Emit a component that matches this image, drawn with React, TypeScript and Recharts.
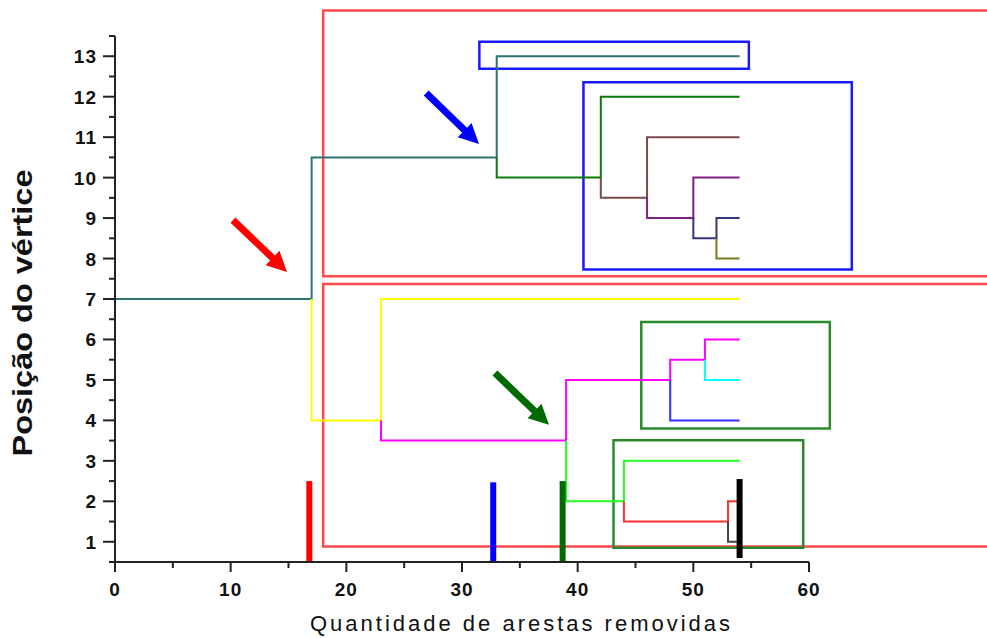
import { ComposedChart, Line, XAxis, YAxis, ReferenceArea, ReferenceLine } from "recharts";

type Pt = { x: number; y: number };

// dendrogram branches: x = arestas removidas, y = posição do vértice
const tealBranch: Pt[] = [
  { x: 0, y: 7 }, { x: 17, y: 7 }, { x: 17, y: 10.5 }, { x: 33, y: 10.5 }, { x: 33, y: 13 }, { x: 54, y: 13 },
];
const darkGreenBranch: Pt[] = [
  { x: 33, y: 10.5 }, { x: 33, y: 10 }, { x: 42, y: 10 }, { x: 42, y: 12 }, { x: 54, y: 12 },
];
const brownBranch: Pt[] = [
  { x: 42, y: 10 }, { x: 42, y: 9.5 }, { x: 46, y: 9.5 }, { x: 46, y: 11 }, { x: 54, y: 11 },
];
const purpleBranch: Pt[] = [
  { x: 46, y: 9.5 }, { x: 46, y: 9 }, { x: 50, y: 9 }, { x: 50, y: 10 }, { x: 54, y: 10 },
];
const navyBranch: Pt[] = [
  { x: 50, y: 9 }, { x: 50, y: 8.5 }, { x: 52, y: 8.5 }, { x: 52, y: 9 }, { x: 54, y: 9 },
];
const oliveBranch: Pt[] = [{ x: 52, y: 8.5 }, { x: 52, y: 8 }, { x: 54, y: 8 }];
const yellowBranch: Pt[] = [
  { x: 17, y: 7 }, { x: 17, y: 4 }, { x: 23, y: 4 }, { x: 23, y: 7 }, { x: 54, y: 7 },
];
const magentaBranch: Pt[] = [
  { x: 23, y: 4 }, { x: 23, y: 3.5 }, { x: 39, y: 3.5 }, { x: 39, y: 5 }, { x: 48, y: 5 },
  { x: 48, y: 5.5 }, { x: 51, y: 5.5 }, { x: 51, y: 6 }, { x: 54, y: 6 },
];
const cyanBranch: Pt[] = [{ x: 51, y: 5.5 }, { x: 51, y: 5 }, { x: 54, y: 5 }];
const blueBranch: Pt[] = [{ x: 48, y: 5 }, { x: 48, y: 4 }, { x: 54, y: 4 }];
const limeBranch: Pt[] = [
  { x: 39, y: 3.5 }, { x: 39, y: 2 }, { x: 44, y: 2 }, { x: 44, y: 3 }, { x: 54, y: 3 },
];
const redBranch: Pt[] = [
  { x: 44, y: 2 }, { x: 44, y: 1.5 }, { x: 53, y: 1.5 }, { x: 53, y: 2 }, { x: 54, y: 2 },
];
const blackBranch: Pt[] = [{ x: 53, y: 1.5 }, { x: 53, y: 1 }, { x: 54, y: 1 }];

const branches = [
  tealBranch, darkGreenBranch, brownBranch, purpleBranch, navyBranch, oliveBranch,
  yellowBranch, magentaBranch, cyanBranch, blueBranch, limeBranch, redBranch, blackBranch,
];
const branchColors = [
  "#2f7272", "#0a7a0a", "#7a4a4a", "#802080", "#35357f", "#7a7a1e",
  "#ffff00", "#ff00ff", "#00ffff", "#3030ff", "#22ff22", "#ff3030", "#444444",
];

// cut markers (thick vertical bars)
const cutX = [16.8, 32.7, 38.7, 54];
const cutBottom = [0.5, 0.5, 0.5, 0.6];
const cutTop = [2.5, 2.47, 2.5, 2.55];
const cutColors = ["#ff0000", "#0000ff", "#006a00", "#000000"];

// highlighted groups: [x1, x2, y1, y2]
const boxes: [number, number, number, number][] = [
  [18, 76, 7.56, 14.13],
  [18, 76, 0.88, 7.37],
  [31.5, 54.8, 12.69, 13.36],
  [40.5, 63.7, 7.73, 12.36],
  [45.5, 61.8, 3.8, 6.43],
  [43.1, 59.5, 0.85, 3.51],
];
const boxColors = ["#ff4a4a", "#ff4a4a", "#1a1aff", "#1a1aff", "#2b8a2b", "#2b8a2b"];

// annotation arrows: tail -> tip
const arrowTail: [number, number][] = [[10.2, 8.95], [26.9, 12.09], [32.85, 5.17]];
const arrowTip: [number, number][] = [[14.87, 7.67], [31.47, 10.83], [37.52, 3.89]];
const arrowColors = ["#ff0000", "#0000ff", "#006a00"];

const xTicks = [0, 5, 10, 15, 20, 25, 30, 35, 40, 45, 50, 55, 60];
const yTicks = [0.5, 1, 1.5, 2, 2.5, 3, 3.5, 4, 4.5, 5, 5.5, 6, 6.5, 7, 7.5, 8, 8.5, 9, 9.5, 10, 10.5, 11, 11.5, 12, 12.5, 13, 13.5];

const FONT = "'Liberation Sans', Arial, sans-serif";
const AXIS = "#222";

const XTick = ({ x, y, payload }: any) => {
  const major = payload.value % 10 === 0;
  return (
    <g>
      <line x1={x} y1={y} x2={x} y2={y + (major ? 10 : 6)} stroke={AXIS} strokeWidth={2} />
      {major && (
        <text x={x} y={y + 34} textAnchor="middle" fontFamily={FONT} fontWeight="bold" fontSize={19} letterSpacing={1} fill="#111">
          {payload.value}
        </text>
      )}
    </g>
  );
};

const YTick = ({ x, y, payload }: any) => {
  const major = Number.isInteger(payload.value);
  return (
    <g>
      <line x1={x} y1={y} x2={x - (major ? 12 : 6)} y2={y} stroke={AXIS} strokeWidth={2} />
      {major && (
        <text x={x - 18} y={y + 7} textAnchor="end" fontFamily={FONT} fontWeight="bold" fontSize={19} letterSpacing={1} fill="#111">
          {payload.value}
        </text>
      )}
    </g>
  );
};

const Arrow = (color: string) => (props: any) => {
  const { x1, y1, x2, y2 } = props;
  const dx = x2 - x1;
  const dy = y2 - y1;
  const len = Math.sqrt(dx * dx + dy * dy);
  const ux = dx / len;
  const uy = dy / len;
  const nx = -uy;
  const ny = ux;
  const head = 20;
  const hw = 10;
  const sw = 3.5;
  const bx = x2 - ux * head;
  const by = y2 - uy * head;
  const pts = [
    [x1 + nx * sw, y1 + ny * sw],
    [bx + nx * sw, by + ny * sw],
    [bx + nx * hw, by + ny * hw],
    [x2, y2],
    [bx - nx * hw, by - ny * hw],
    [bx - nx * sw, by - ny * sw],
    [x1 - nx * sw, y1 - ny * sw],
  ];
  return <polygon points={pts.map((p) => p.join(",")).join(" ")} fill={color} />;
};

export default function App() {
  return (
    <div style={{ position: "absolute", left: 0, top: 0, background: "#fff" }}>
      <ComposedChart width={987} height={638} margin={{ top: 36, right: 178, left: 0, bottom: 0 }}>
        <XAxis
          type="number"
          dataKey="x"
          domain={[0, 60]}
          ticks={xTicks}
          allowDataOverflow
          height={76}
          tickSize={0}
          tickMargin={0}
          tickLine={false}
          axisLine={{ stroke: AXIS, strokeWidth: 2 }}
          tick={<XTick />}
          interval={0}
          label={{
            content: () => (
              <text
                x={520}
                y={631}
                textAnchor="middle"
                fontFamily={FONT}
                fontSize={22}
                fill="#111"
                textLength={420}
                lengthAdjust="spacing"
              >
                Quantidade de arestas removidas
              </text>
            ),
          }}
        />
        <YAxis
          type="number"
          dataKey="y"
          domain={[0.5, 13.5]}
          ticks={yTicks}
          allowDataOverflow
          width={115}
          tickSize={0}
          tickMargin={0}
          tickLine={false}
          axisLine={{ stroke: AXIS, strokeWidth: 2 }}
          tick={<YTick />}
          interval={0}
          label={{
            content: () => (
              <text
                x={0}
                y={0}
                transform="translate(32, 313) rotate(-90)"
                textAnchor="middle"
                fontFamily={FONT}
                fontWeight="bold"
                fontSize={27}
                fill="#111"
                textLength={287}
                lengthAdjust="spacingAndGlyphs"
              >
                Posição do vértice
              </text>
            ),
          }}
        />
        {boxes.map((b, i) => (
          <ReferenceArea
            key={`box-${i}`}
            x1={b[0]}
            x2={b[1]}
            y1={b[2]}
            y2={b[3]}
            fill="none"
            fillOpacity={0}
            stroke={boxColors[i]}
            strokeWidth={2.5}
            ifOverflow="visible"
          />
        ))}
        {branches.map((data, i) => (
          <Line
            key={`br-${i}`}
            data={data}
            dataKey="y"
            type="linear"
            stroke={branchColors[i]}
            strokeWidth={2}
            dot={false}
            activeDot={false}
            isAnimationActive={false}
          />
        ))}
        {cutX.map((cx, i) => (
          <Line
            key={`cut-${i}`}
            data={[
              { x: cx, y: cutBottom[i] },
              { x: cx, y: cutTop[i] },
            ]}
            dataKey="y"
            type="linear"
            stroke={cutColors[i]}
            strokeWidth={6}
            dot={false}
            activeDot={false}
            isAnimationActive={false}
          />
        ))}
        {arrowTail.map((t, i) => (
          <ReferenceLine
            key={`arrow-${i}`}
            segment={[
              { x: t[0], y: t[1] },
              { x: arrowTip[i][0], y: arrowTip[i][1] },
            ]}
            ifOverflow="visible"
            shape={Arrow(arrowColors[i])}
          />
        ))}
      </ComposedChart>
    </div>
  );
}
